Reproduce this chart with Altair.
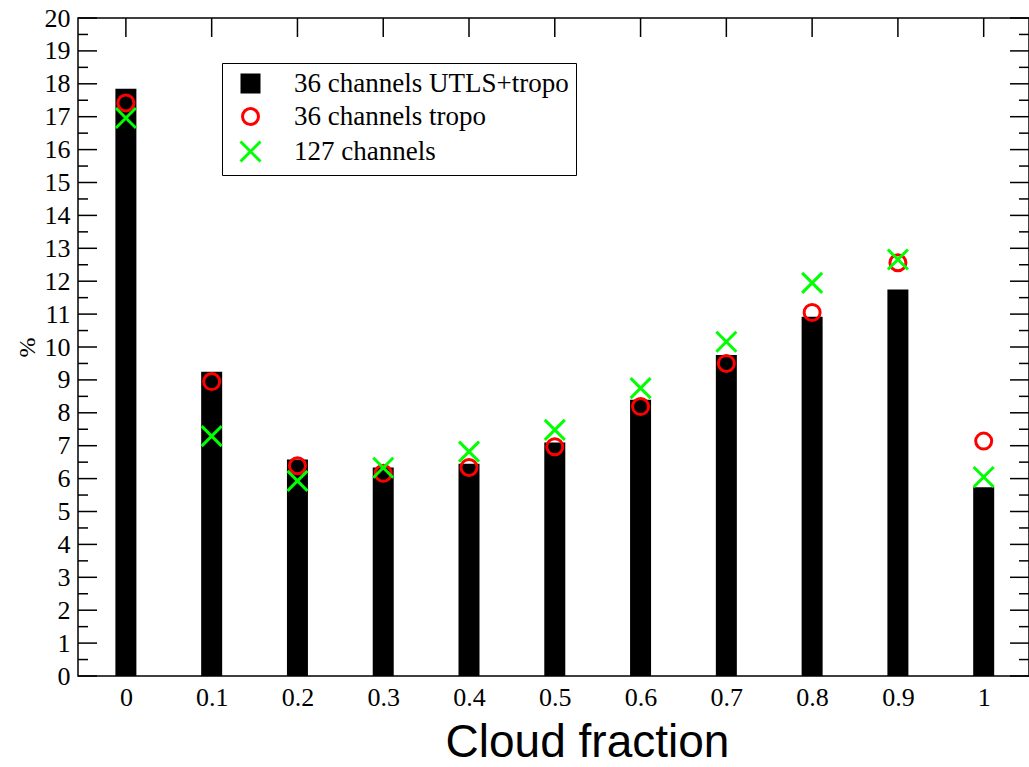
import altair as alt
import pandas as pd

# ---- data ----
cloud_fraction = [0.0, 0.1, 0.2, 0.3, 0.4, 0.5, 0.6, 0.7, 0.8, 0.9, 1.0]
utls_tropo = [17.85, 9.25, 6.58, 6.34, 6.45, 7.1, 8.4, 9.76, 10.92, 11.75, 5.74]
tropo_36 = [17.42, 8.95, 6.39, 6.16, 6.34, 6.97, 8.19, 9.5, 11.05, 12.56, 7.14]
ch_127 = [16.96, 7.29, 5.93, 6.33, 6.82, 7.48, 8.75, 10.16, 11.95, 12.66, 6.05]

series_names = ["36 channels UTLS+tropo", "36 channels tropo", "127 channels"]
y_major = list(range(0, 21))
y_minor = [v + 0.5 for v in range(0, 20)]

W, H = 951, 658

bars_df = pd.DataFrame({"cf": cloud_fraction, "val": utls_tropo})
pts_df = pd.concat([
    pd.DataFrame({"cf": cloud_fraction, "val": tropo_36, "series": series_names[1]}),
    pd.DataFrame({"cf": cloud_fraction, "val": ch_127, "series": series_names[2]}),
])
major_df = pd.DataFrame({"val": y_major})
minor_df = pd.DataFrame({"val": y_minor})
top_df = pd.DataFrame({"cf": cloud_fraction})

xscale = alt.Scale(domain=[-0.05, 1.047], nice=False, zero=False)
yscale = alt.Scale(domain=[0, 20], nice=False)

serif = "Liberation Serif"

# filled square drawn as stacked strokes, circle, and X
square_path = "M-0.85,-0.85H0.85V0.85H-0.85Z" + "".join(
    f"M-0.85,{v:.2f}H0.85" for v in [-0.6, -0.35, -0.1, 0.15, 0.4, 0.65]
)
circle_path = "M0.8,0A0.8,0.8 0 1,1 -0.8,0A0.8,0.8 0 1,1 0.8,0Z"
x_path = "M-1,-1L1,1M-1,1L1,-1"

x_axis = alt.Axis(
    values=cloud_fraction, format=".1~f", ticks=False, domain=False, grid=False,
    labelFont=serif, labelFontSize=26, labelColor="black", labelPadding=8,
    labelOverlap=False,
    title="Cloud fraction", titleFont="Liberation Sans", titleFontSize=46,
    titleFontWeight="normal", titleColor="black", titleX=509, titleY=80,
    titleBaseline="alphabetic", titleAnchor="middle", titleAlign="center",
)
y_axis = alt.Axis(
    values=y_major, format="d", ticks=False, domain=False, grid=False,
    labelFont=serif, labelFontSize=26, labelColor="black", labelPadding=8,
    labelOverlap=False,
    title="%", titleFont=serif, titleFontSize=24, titleFontWeight="normal",
    titleColor="black", titleX=-51, titleY=329, titleAlign="center",
    titleBaseline="middle",
)

bars = alt.Chart(bars_df).mark_bar(color="black", size=21).encode(
    x=alt.X("cf:Q", scale=xscale, axis=x_axis),
    y=alt.Y("val:Q", scale=yscale, axis=y_axis),
)

legend = alt.Legend(
    title=None, orient="none", legendX=144, legendY=45,
    strokeColor="black", fillColor="white", padding=7, symbolOffset=8,
    labelFont=serif, labelFontSize=27, labelColor="black", labelOffset=30,
    symbolSize=400, symbolStrokeWidth=3, rowPadding=4, labelLimit=500,
)

points = alt.Chart(pts_df).mark_point(filled=False, strokeWidth=3, size=400, opacity=1).encode(
    x=alt.X("cf:Q", scale=xscale, axis=x_axis),
    y=alt.Y("val:Q", scale=yscale, axis=y_axis),
    color=alt.Color(
        "series:N",
        scale=alt.Scale(domain=series_names, range=["black", "#ff0000", "#00ff00"]),
        legend=legend,
    ),
    shape=alt.Shape(
        "series:N",
        scale=alt.Scale(domain=series_names, range=[square_path, circle_path, x_path]),
        legend=legend,
    ),
)

tick_style = dict(color="black", strokeWidth=1.5)
y_rule = alt.Y("val:Q", scale=yscale, axis=y_axis)
left_major = alt.Chart(major_df).mark_rule(**tick_style).encode(
    y=y_rule, x=alt.value(0), x2=alt.value(19))
left_minor = alt.Chart(minor_df).mark_rule(**tick_style).encode(
    y=y_rule, x=alt.value(0), x2=alt.value(10))
right_major = alt.Chart(major_df).mark_rule(**tick_style).encode(
    y=y_rule, x=alt.value(W - 19), x2=alt.value(W))
right_minor = alt.Chart(minor_df).mark_rule(**tick_style).encode(
    y=y_rule, x=alt.value(W - 10), x2=alt.value(W))
top_ticks = alt.Chart(top_df).mark_rule(**tick_style).encode(
    x=alt.X("cf:Q", scale=xscale, axis=x_axis), y=alt.value(0), y2=alt.value(19))

chart = alt.layer(
    bars, left_major, left_minor, right_major, right_minor, top_ticks, points
).properties(
    width=W, height=H,
    autosize=alt.AutoSizeParams(type="none"),
    padding={"left": 78, "top": 18, "right": 0, "bottom": 91},
    background="white",
).configure_view(stroke="black", strokeWidth=1.5)

chart.save("out.html", embed_options={"renderer": "svg", "actions": False})
